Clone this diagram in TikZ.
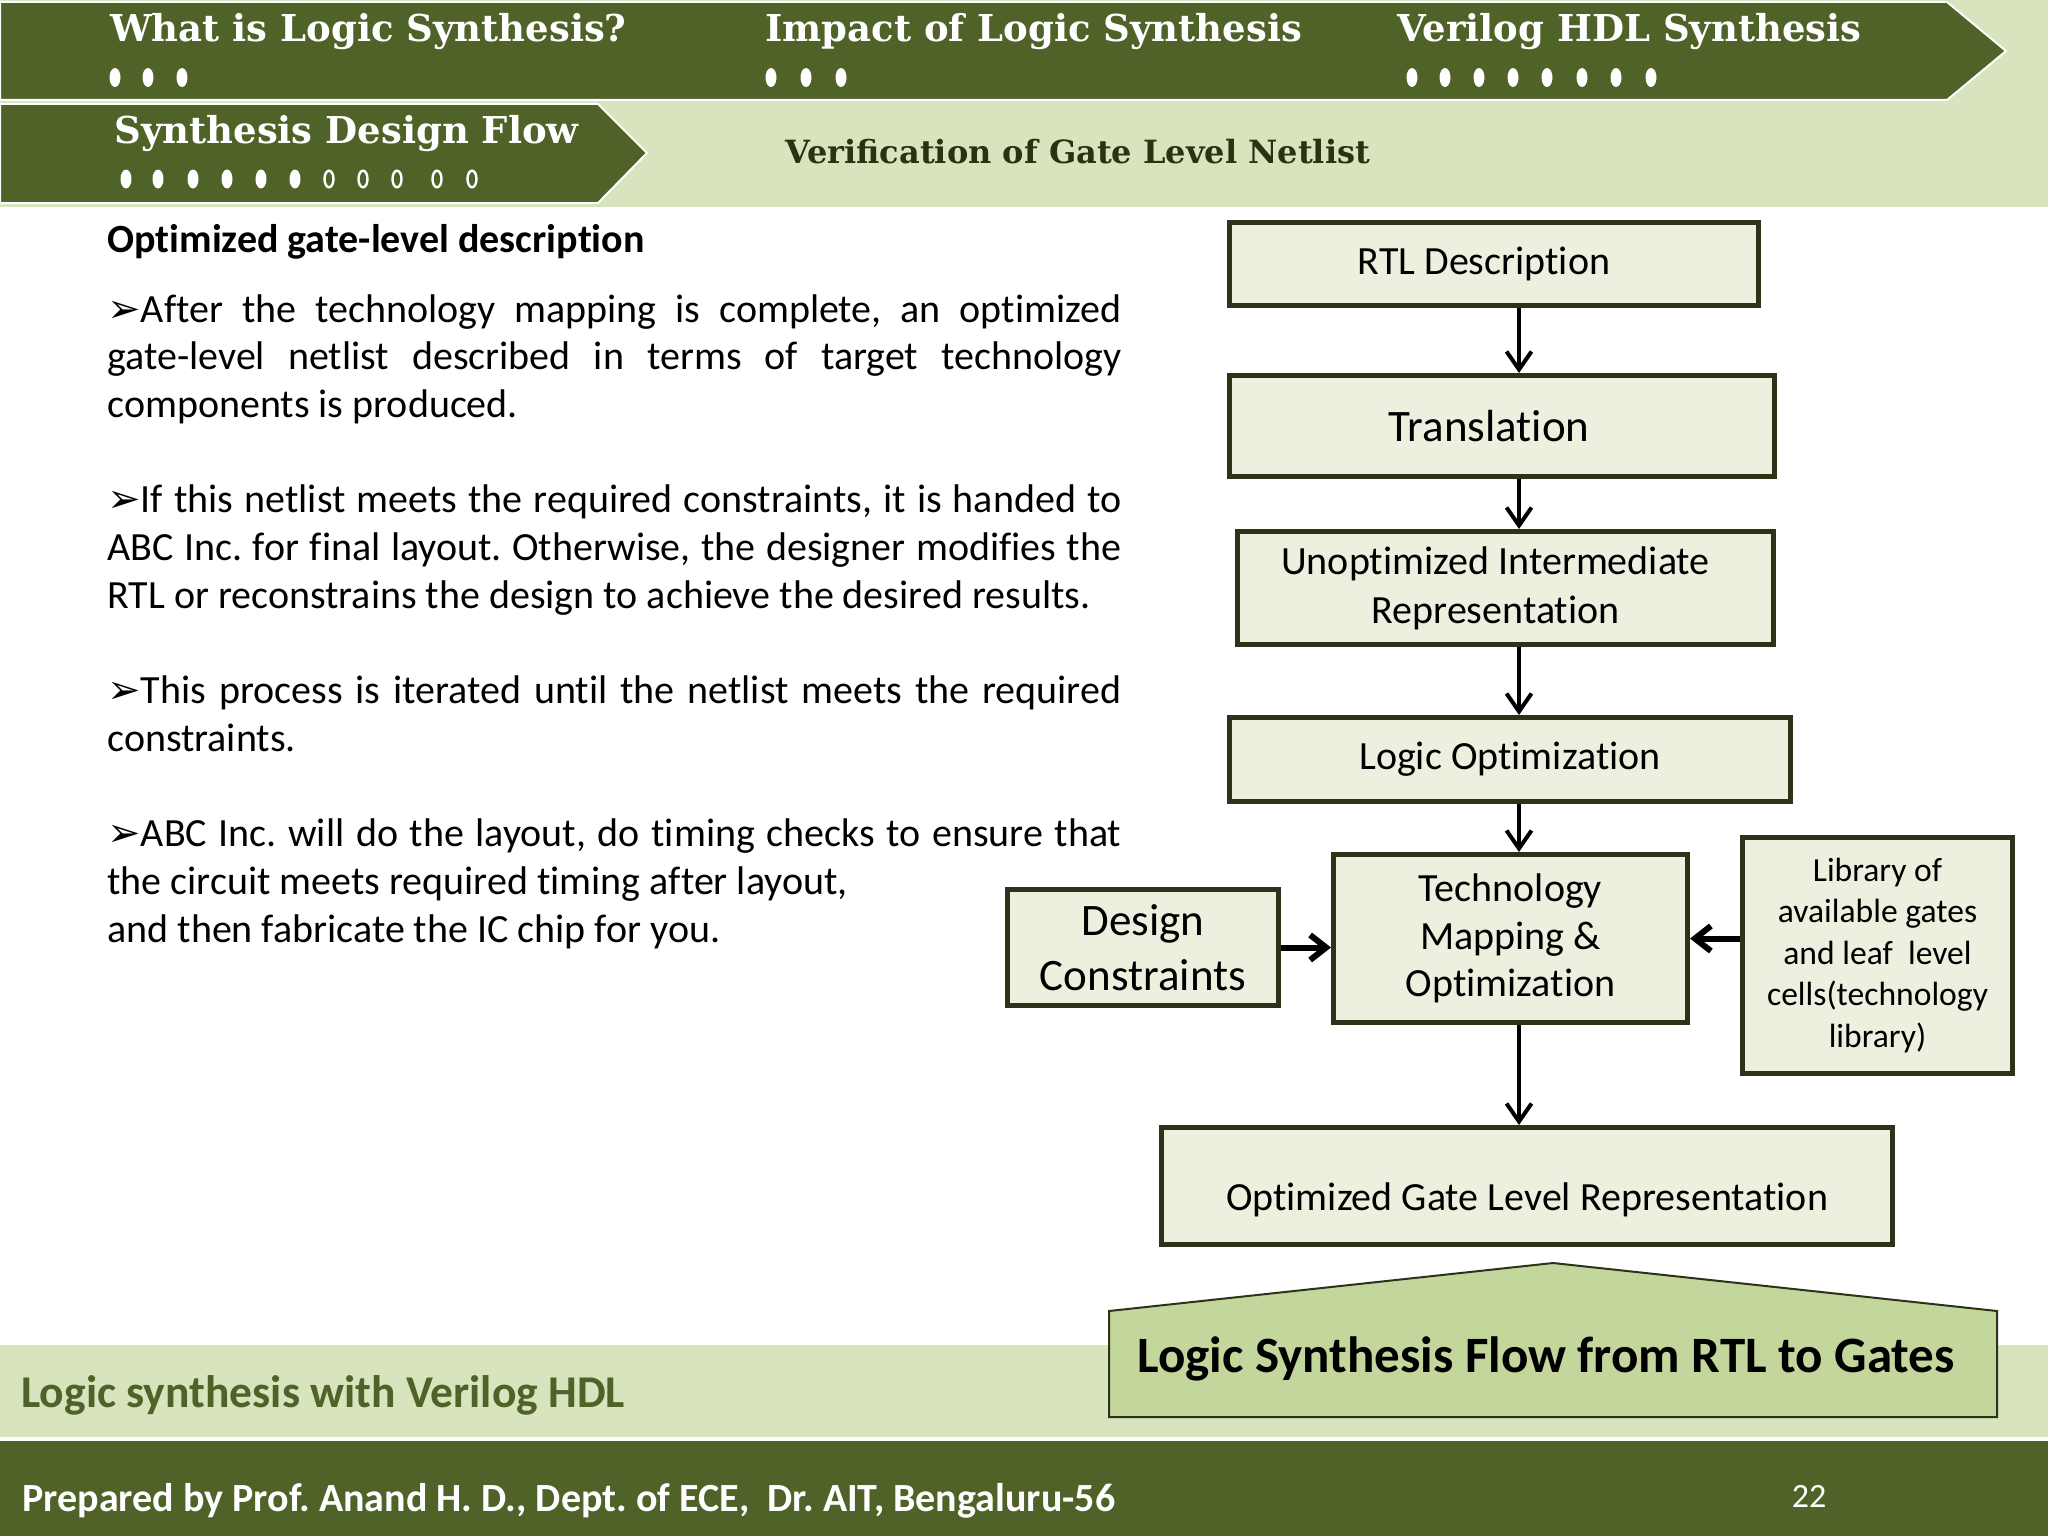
\documentclass[tikz,border=0pt]{standalone}
\usepackage{fontspec}
\setmainfont{Carlito}[Ligatures={CommonOff}]
\newfontfamily\hdrfont{DejaVu Serif}
\newfontfamily\dvsfont{DejaVu Sans}
\usetikzlibrary{arrows.meta}
\definecolor{dkgreen}{HTML}{4F6228}
\definecolor{ltgreen}{HTML}{D7E4BD}
\definecolor{boxfill}{HTML}{EBF1DE}
\definecolor{boxline}{HTML}{2D3319}
\definecolor{pentfill}{HTML}{C3D69B}
\definecolor{vertxt}{HTML}{28330F}
\newcommand\myjl[1]{\hbox to 507pt{\strut#1}}
\newcommand\myrl[1]{\hbox{\strut#1}}
\newcommand\mybl{\hbox{\strut}}
\newcommand\mybul{{\dvsfont ➢}}
\newcommand\padr[1]{\rule{#1}{0pt}}
\frenchspacing
\begin{document}
\begin{tikzpicture}[x=0.5pt,y=-0.5pt,
  flowbox/.style={draw=boxline, line width=2.5pt, fill=boxfill, inner sep=0pt, align=center,
    font=\fontsize{20pt}{23.8pt}\selectfont},
  flowarrow/.style={-{Straight Barb[length=9pt,width=12.5pt]}, line width=2pt, black},
  harrow/.style={-{Straight Barb[length=8pt,width=12.5pt]}, line width=3pt, black},
  hdrtext/.style={anchor=base west, inner sep=0pt, text=white,
    font=\hdrfont\bfseries\fontsize{18.5pt}{22pt}\selectfont},
  plain/.style={anchor=base west, inner sep=0pt}]
\useasboundingbox (0,0) rectangle (2048,1536);
\fill[white] (0,0) rectangle (2048,1536);
% header
\fill[ltgreen] (0,0) rectangle (2048,207);
\filldraw[fill=dkgreen, draw=white, line width=1pt] (0,2) -- (1947,2) -- (2006,51) -- (1947,100) -- (0,100) -- cycle;
\filldraw[fill=dkgreen, draw=white, line width=1pt] (0,104) -- (598,104) -- (647,153) -- (598,203) -- (0,203) -- cycle;
\node[hdrtext] (h1) at (110,42) {What is Logic Synthesis?};
\node[hdrtext] (h2) at (765,42) {Impact of Logic Synthesis};
\node[hdrtext] (h3) at (1397,42) {Verilog HDL Synthesis};
\node[hdrtext] (h4) at (114,143) {Synthesis Design Flow};
\node[hdrtext, text=vertxt, font=\hdrfont\bfseries\fontsize{16pt}{19pt}\selectfont] (h5) at (785,163) {Verification of Gate Level Netlist};
\foreach \x in {115,148,182,771,806,841,1412,1445,1479,1513,1547,1582,1616,1651}
  \fill[white] (\x,77.5) ellipse[x radius=5.5, y radius=9.5];
\foreach \x in {126,158,193,227,261,295}
  \fill[white] (\x,179) ellipse[x radius=5.5, y radius=9.5];
\foreach \x in {329,363,397,437,472}
  \draw[white, line width=1.2pt] (\x,179) ellipse[x radius=4.5, y radius=8.3];
% left text
\node[plain, font=\bfseries\fontsize{20pt}{24pt}\selectfont] (title) at (107,252) {Optimized gate-level description};
\node[plain, font=\fontsize{20pt}{23.85pt}\selectfont] (body) at (107,322) {\vtop{\hsize=507pt\baselineskip=23.85pt\lineskiplimit=-10pt
\myjl{\mybul After the technology mapping is complete, an optimized}
\myjl{gate-level netlist described in terms of target technology}
\myrl{components is produced.}
\mybl
\myjl{\mybul If this netlist meets the required constraints, it is handed to}
\myjl{ABC Inc. for final layout. Otherwise, the designer modifies the}
\myrl{RTL or reconstrains the design to achieve the desired results.}
\mybl
\myjl{\mybul This process is iterated until the netlist meets the required}
\myrl{constraints.}
\mybl
\myjl{\mybul ABC Inc. will do the layout, do timing checks to ensure that}
\myrl{the circuit meets required timing after layout,}
\myrl{and then fabricate the IC chip for you.}
}};
% flow boxes
\node[flowbox, minimum width=264.5pt, minimum height=41.5pt] (rtl) at (1494,264) {RTL Description\padr{10pt}};
\node[flowbox, minimum width=272.5pt, minimum height=50.5pt, font=\fontsize{22.5pt}{27pt}\selectfont] (trans) at (1502,426) {Translation\padr{13pt}};
\node[flowbox, minimum width=268pt, minimum height=56.5pt, font=\fontsize{20pt}{24.5pt}\selectfont] (unopt) at (1505.5,588) {Unoptimized Intermediate\padr{10pt}\\Representation\padr{10pt}};
\node[flowbox, minimum width=280.5pt, minimum height=42pt] (logopt) at (1510,759.5) {Logic Optimization};
\node[flowbox, minimum width=177pt, minimum height=84pt, font=\fontsize{20pt}{23.75pt}\selectfont] (tech) at (1510.5,938.5) {Technology\\Mapping \&\\Optimization};
\node[flowbox, minimum width=135.5pt, minimum height=58pt, font=\fontsize{22.5pt}{27.5pt}\selectfont] (design) at (1143,947.5) {Design\\Constraints};
\node[flowbox, minimum width=135pt, minimum height=118pt, font=\fontsize{16.8pt}{20.75pt}\selectfont] (lib) at (1877.5,955.5) {Library of\\available gates\\and leaf~ level\\cells(technology\\library)};
\node[flowbox, minimum width=365.5pt, minimum height=58.5pt, text height=28pt, text depth=4pt] (oglr) at (1527,1186) {Optimized Gate Level Representation};
\coordinate (ax) at (1519,0);
\draw[flowarrow] (rtl.south -| ax) -- (trans.north -| ax);
\draw[flowarrow] (trans.south -| ax) -- (unopt.north -| ax);
\draw[flowarrow] (unopt.south -| ax) -- (logopt.north -| ax);
\draw[flowarrow] (logopt.south -| ax) -- (tech.north -| ax);
\draw[flowarrow] (tech.south -| ax) -- (oglr.north -| ax);
\draw[harrow] (design.east) -- (tech.west |- design.east);
\draw[harrow] (lib.west |- tech.east) -- (tech.east);
% footer
\fill[ltgreen] (0,1345) rectangle (2048,1437);
\fill[dkgreen] (0,1441) rectangle (2048,1536);
\filldraw[fill=pentfill, draw=boxline, line width=1pt] (1109,1311) -- (1553,1263) -- (1997,1311) -- (1997,1417) -- (1109,1417) -- cycle;
\node[anchor=base, inner sep=0pt, font=\bfseries\fontsize{25.5pt}{30pt}\selectfont] (ptitle) at (1546,1372) {Logic Synthesis Flow from RTL to Gates};
\node[plain, text=dkgreen, font=\bfseries\fontsize{22.75pt}{27pt}\selectfont] (foot1) at (21,1407) {Logic synthesis with Verilog HDL};
\node[plain, text=white, font=\bfseries\fontsize{20pt}{24pt}\selectfont] (foot2) at (22,1511) {Prepared by Prof. Anand H. D., Dept. of ECE,~ Dr. AIT, Bengaluru-56};
\node[anchor=base, inner sep=0pt, text=white, font=\fontsize{17pt}{20pt}\selectfont] (pnum) at (1809,1507) {22};
\end{tikzpicture}
\end{document}
